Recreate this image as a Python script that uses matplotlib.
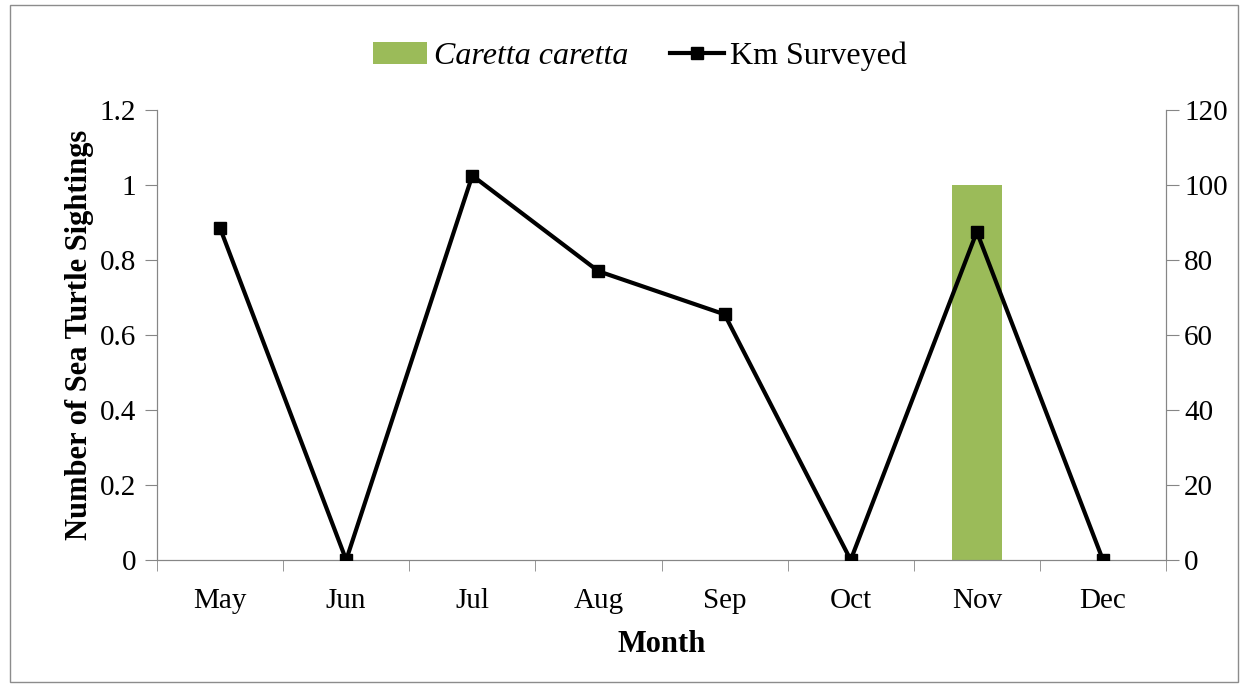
import matplotlib
matplotlib.use("Agg")
import matplotlib.pyplot as plt
from matplotlib.lines import Line2D
from matplotlib.patches import Patch, Rectangle

plt.rcParams["font.family"] = ["Liberation Serif", "DejaVu Serif"]

months = ["May", "Jun", "Jul", "Aug", "Sep", "Oct", "Nov", "Dec"]
sightings = [0, 0, 0, 0, 0, 0, 1, 0]
km_surveyed = [88.5, 0, 102.5, 77, 65.5, 0, 87.5, 0]

BAR_COLOR = "#9bbb59"
SPINE_COLOR = "#868686"

fig = plt.figure(figsize=(12.48, 6.87), dpi=100)
fig.patches.append(Rectangle((0.008, 0.008), 0.984, 0.984, transform=fig.transFigure,
                             fill=False, edgecolor="#8c8c8c", linewidth=1.0))

ax = fig.add_axes([0.1258, 0.1849, 0.8085, 0.655])
ax2 = ax.twinx()

x = list(range(len(months)))
ax.bar(x, sightings, width=0.4, color=BAR_COLOR, zorder=1)
ax2.plot(x, km_surveyed, color="black", linewidth=3, marker="s", markersize=8, zorder=3)

ax.set_xlim(-0.5, len(months) - 0.5)
ax.set_ylim(0, 1.2)
ax.set_yticks([0, 0.2, 0.4, 0.6, 0.8, 1.0, 1.2])
ax.set_yticklabels(["0", "0.2", "0.4", "0.6", "0.8", "1", "1.2"])
ax2.set_ylim(0, 120)
ax2.set_yticks([0, 20, 40, 60, 80, 100, 120])

ax.set_xticks(x)
ax.set_xticklabels(months)
ax.set_xticks([i + 0.5 for i in range(-1, len(months))], minor=True)
ax.tick_params(axis="x", which="major", length=0, pad=20, labelsize=21)
ax.tick_params(axis="x", which="minor", length=8, color=SPINE_COLOR, direction="out")
ax.tick_params(axis="y", length=9, color=SPINE_COLOR, pad=6, labelsize=21)
ax2.tick_params(axis="y", length=9, color=SPINE_COLOR, pad=4, labelsize=21)

for a in (ax, ax2):
    a.spines["top"].set_visible(False)
    for s in ("left", "right", "bottom"):
        a.spines[s].set_color(SPINE_COLOR)

ax.set_xlabel("Month", fontsize=22, fontweight="bold", labelpad=12)
ax.set_ylabel("Number of Sea Turtle Sightings", fontsize=22, fontweight="bold", labelpad=4)

handles = [Patch(facecolor=BAR_COLOR, label="Caretta caretta"),
           Line2D([], [], color="black", linewidth=3, marker="s", markersize=8, label="Km Surveyed")]
leg = fig.legend(handles=handles, loc="center", bbox_to_anchor=(0.513, 0.918), ncol=2,
                 frameon=False, prop={"family": ["Liberation Serif"], "size": 23},
                 handlelength=1.7, handletextpad=0.2, columnspacing=1.3)
leg.get_texts()[0].set_fontstyle("italic")

fig.savefig("out.png", dpi=100)
